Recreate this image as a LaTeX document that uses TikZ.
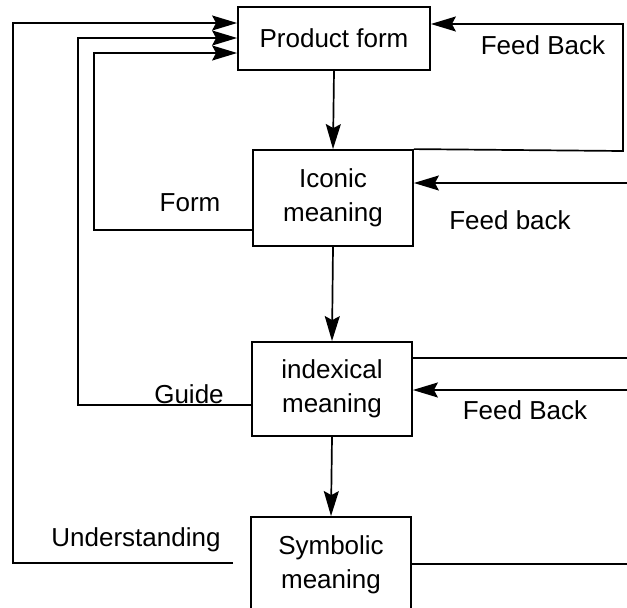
\documentclass[tikz,border=0pt]{standalone}
\usepackage{fontspec}
\setmainfont{Liberation Sans}
\usetikzlibrary{arrows.meta}

\begin{document}
\begin{tikzpicture}[x=1pt,y=-1pt,
    every node/.style={font=\fontsize{26}{34}\selectfont},
    box/.style={draw,line width=1.8pt,inner sep=0pt,align=center},
    link/.style={line width=1.7pt},
    arr/.style={link,-{Stealth[length=25pt,width=15pt,inset=4pt]}},
    lbl/.style={inner sep=0pt}]
  \clip (0,0) rectangle (627,608);

  % the four stages
  \node[box,minimum width=192pt,minimum height=63pt] (pf) at (334,38.5) {Product form};
  \node[box,minimum width=160pt,minimum height=96pt] (ic) at (333,198) {Iconic\\meaning};
  \node[box,minimum width=160pt,minimum height=94pt] (ix) at (332,389) {indexical\\meaning};
  \node[box,minimum width=160pt,minimum height=95pt] (sy) at (331,564.5) {Symbolic\\meaning};

  % main flow
  \draw[arr] (pf.south) -- (ic.north);
  \draw[arr] (ic.south) -- (ix.north);
  \draw[arr] (ix.south) -- (sy.north);

  % loops back to the product form on the left
  \coordinate (u0) at (233,563);
  \draw[arr] (ic.west |- 0,230) -| (94,53) -- (pf.west |- 0,53);
  \draw[arr] (ix.west |- 0,405) -| (78,38) -- (pf.west |- 0,38);
  \draw[arr] (u0) -| (13,23) -- (pf.west |- 0,23);

  % feedback lines on the right
  \coordinate (r1) at (627,183);
  \coordinate (r2) at (627,358);
  \coordinate (r3) at (627,390);
  \coordinate (r4) at (627,564);
  \draw[arr] (ic.north east) -- (623,151) |- (pf.east |- 0,24);
  \draw[arr] (r1) -- (ic.east |- r1);
  \draw[link] (ix.east |- r2) -- (r2);
  \draw[arr] (r3) -- (ix.east |- r3);
  \draw[link] (sy.east |- r4) -- (r4);

  % labels
  \node[lbl] (l1) at (543,45) {Feed Back};
  \node[lbl] (l2) at (190,203) {Form};
  \node[lbl] (l3) at (510,220) {Feed back};
  \node[lbl] (l4) at (189,394) {Guide};
  \node[lbl] (l5) at (525,410) {Feed Back};
  \node[lbl] (l6) at (136,540) {Understanding};
\end{tikzpicture}
\end{document}
